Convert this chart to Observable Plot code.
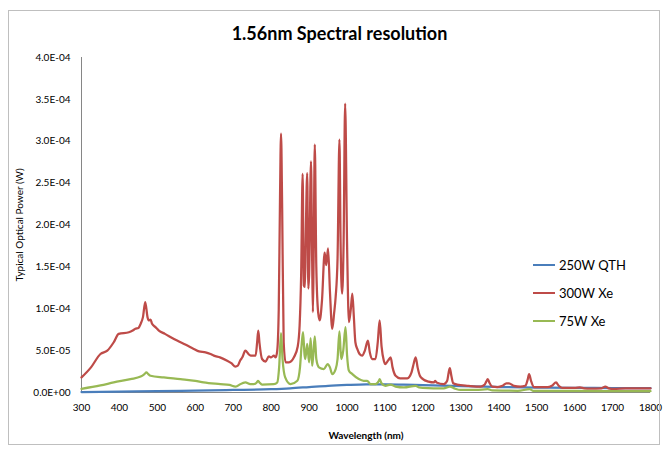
<!DOCTYPE html>
<html>
<head>
<meta charset="utf-8">
<script src="https://cdn.jsdelivr.net/npm/d3@7"></script>
<script src="https://cdn.jsdelivr.net/npm/@observablehq/plot@0.6"></script>
<style>
  html, body { margin: 0; padding: 0; background: #fff; }
  #wrap { position: relative; width: 665px; height: 453px; overflow: hidden; font-family: Lato, "Open Sans", sans-serif; }
  #border { position: absolute; left: 8px; top: 10px; width: 652px; height: 435px; border: 1px solid #bfbfbf; box-sizing: border-box; pointer-events: none; }
  #title { height: 48px; box-sizing: border-box; padding-top: 22px; line-height: 22px; text-align: center; font-weight: bold; font-size: 18px; color: #000; padding-left: 14px; }
  #legend { position: absolute; left: 533px; top: 251px; font-size: 13px; color: #000; }
  .li { display: flex; align-items: center; height: 28px; }
  .sw { width: 22px; height: 0; border-top: 2.5px solid; margin-right: 4px; }
</style>
</head>
<body>
<div id="wrap">
  <div id="border"></div>
  <div id="title">1.56nm Spectral resolution</div>
  <div id="chart"></div>
  <div id="legend"></div>
</div>
<script>
// ---- data (values in units of 1e-5 W) ----
const UNIT = 1e-5;
const seriesNames = ["250W QTH", "300W Xe", "75W Xe"];
const seriesColors = ["#4a7ebb", "#be4b48", "#98b954"];

const qthWl  = [300, 400, 500, 600, 700, 800, 850, 900, 950, 1000, 1050, 1100, 1150, 1200, 1300, 1400, 1500, 1600, 1700, 1800];
const qthVal = [0.05, 0.1, 0.15, 0.22, 0.3, 0.4, 0.5, 0.65, 0.8, 0.9, 0.97, 0.98, 0.95, 0.88, 0.75, 0.65, 0.58, 0.55, 0.53, 0.52];

const xe300Wl  = [300, 325, 350, 368, 385, 398, 425, 435, 442, 450, 456, 462, 468, 474, 477, 482, 486, 495, 504, 520, 552, 575, 596, 610, 627, 640, 649, 665, 684, 695, 706, 712, 718, 724, 732, 740, 746, 759, 763, 766, 769, 776, 785, 794, 800, 807, 812, 816, 820, 823, 826, 829, 833, 838, 847, 860, 870, 875, 879, 883, 886, 889, 891, 895, 898, 900, 905, 908, 910, 912, 915, 919, 924, 928, 934, 941, 945, 950, 955, 961, 966, 970, 975, 980, 983, 987, 991, 995, 1000, 1005, 1010, 1014, 1018, 1022, 1027, 1033, 1040, 1047, 1055, 1060, 1066, 1075, 1081, 1086, 1091, 1097, 1101, 1108, 1115, 1120, 1128, 1140, 1159, 1170, 1176, 1181, 1186, 1192, 1200, 1215, 1229, 1232, 1236, 1255, 1264, 1268, 1271, 1275, 1280, 1290, 1320, 1352, 1362, 1367, 1371, 1375, 1383, 1396, 1410, 1420, 1427, 1440, 1457, 1470, 1476, 1480, 1485, 1493, 1528, 1540, 1551, 1558, 1567, 1600, 1614, 1625, 1642, 1670, 1681, 1690, 1703, 1734, 1760, 1800];
const xe300Val = [1.8, 3.0, 4.6, 5.0, 6.0, 7.0, 7.2, 7.4, 7.6, 7.7, 8.2, 9.0, 10.8, 9.0, 8.6, 8.7, 8.2, 7.8, 7.4, 7.0, 6.2, 5.7, 5.2, 4.9, 4.8, 4.6, 4.4, 4.2, 3.8, 3.5, 3.1, 3.2, 3.8, 4.2, 5.0, 4.6, 4.4, 4.4, 6.0, 7.4, 6.0, 4.0, 3.7, 4.3, 4.2, 4.4, 4.2, 5.0, 10, 22, 30.9, 22, 6, 3.6, 3.6, 4.2, 5.5, 8, 14, 26.1, 12.8, 12.6, 18, 26.2, 12.4, 14, 27.6, 16, 9.6, 16, 29.6, 15, 9.5, 8.6, 11, 16.7, 15.2, 17.2, 12, 7.6, 9.5, 11.4, 16, 30.2, 18, 11.8, 18, 34.5, 18, 8.4, 10, 11.8, 9, 6, 5.2, 4.6, 4.4, 5.0, 6.2, 4.8, 4.0, 4.0, 6.0, 8.6, 5.5, 3.8, 3.4, 3.8, 4.2, 3.0, 2.0, 1.7, 1.7, 2.4, 3.5, 4.2, 3.0, 2.0, 1.6, 1.3, 1.2, 1.4, 1.2, 1.0, 1.4, 2.4, 2.9, 2.0, 1.1, 0.95, 0.8, 0.7, 0.9, 1.3, 1.6, 1.2, 0.7, 0.65, 0.8, 1.1, 1.1, 0.8, 0.7, 0.8, 1.5, 2.2, 1.4, 0.65, 0.63, 0.8, 1.2, 0.8, 0.56, 0.55, 0.62, 0.5, 0.45, 0.5, 0.7, 0.5, 0.42, 0.48, 0.48, 0.48];

const xe75Wl  = [300, 350, 385, 429, 456, 466, 471, 476, 482, 517, 561, 600, 622, 666, 690, 706, 712, 719, 732, 745, 754, 762, 765, 769, 776, 807, 816, 821, 826, 830, 837, 851, 869, 876, 880, 884, 888, 890, 895, 900, 904, 908, 911, 915, 919, 926, 939, 949, 955, 961, 970, 975, 980, 983, 985, 990, 996, 1000, 1005, 1014, 1031, 1044, 1053, 1062, 1075, 1084, 1086, 1091, 1101, 1115, 1128, 1150, 1181, 1190, 1200, 1255, 1271, 1285, 1299, 1340, 1371, 1383, 1420, 1450, 1482, 1490, 1550, 1600, 1700, 1800];
const xe75Val = [0.44, 0.84, 1.2, 1.6, 1.9, 2.2, 2.4, 2.2, 2.0, 1.8, 1.6, 1.4, 1.2, 1.0, 0.9, 0.7, 0.8, 1.0, 1.2, 1.0, 1.0, 1.2, 1.4, 1.2, 0.95, 1.0, 1.2, 3.0, 7.1, 4.0, 1.8, 1.0, 1.4, 3.0, 5.5, 7.2, 4.5, 4.0, 5.8, 3.6, 6.5, 3.2, 4.5, 6.7, 4.0, 3.0, 2.8, 3.4, 3.0, 2.2, 2.8, 4.0, 7.3, 5.0, 4.0, 5.0, 7.8, 4.5, 2.6, 2.2, 1.6, 1.4, 1.4, 1.0, 1.0, 1.4, 1.6, 1.1, 0.8, 0.95, 0.7, 0.6, 0.8, 0.6, 0.56, 0.5, 0.7, 0.45, 0.3, 0.3, 0.4, 0.25, 0.22, 0.2, 0.4, 0.2, 0.2, 0.18, 0.15, 0.15];

const xTicks = [300, 400, 500, 600, 700, 800, 900, 1000, 1100, 1200, 1300, 1400, 1500, 1600, 1700, 1800];
const yTicks = [0, 5e-5, 1e-4, 1.5e-4, 2e-4, 2.5e-4, 3e-4, 3.5e-4, 4e-4];
const xTitle = "Wavelength (nm)";
const yTitle = "Typical Optical Power (W)";

// ---- build table ----
const rows = [];
[[seriesNames[0], qthWl, qthVal], [seriesNames[1], xe300Wl, xe300Val], [seriesNames[2], xe75Wl, xe75Val]]
  .forEach(([name, wl, val]) => wl.forEach((w, i) => rows.push({series: name, wl: w, p: val[i] * UNIT})));

const fmtE = d => {
  const [m, e] = d.toExponential(1).split("e");
  return m + "E" + e[0] + e.slice(1).padStart(2, "0");
};

const chart = Plot.plot({
  width: 665,
  height: 405,
  marginLeft: 81,
  marginRight: 15,
  marginTop: 9,
  marginBottom: 61,
  style: {fontFamily: "Lato, 'Open Sans', sans-serif", fontSize: "10px", color: "#000", background: "transparent", overflow: "visible"},
  x: {domain: [300, 1800]},
  y: {domain: [0, 4e-4]},
  color: {domain: seriesNames, range: seriesColors},
  marks: [
    Plot.ruleY([0], {stroke: "#868686", strokeWidth: 1}),
    Plot.ruleX([300], {stroke: "#868686", strokeWidth: 1}),
    Plot.line(rows, {x: "wl", y: "p", z: "series", stroke: "series", strokeWidth: 2.25, curve: "monotone-x", strokeLinejoin: "round"}),
    Plot.axisX({ticks: xTicks, tickSize: 0, tickPadding: 11, tickFormat: d => String(d), label: null}),
    Plot.axisY({ticks: yTicks, tickSize: 0, tickPadding: 11, tickFormat: fmtE, label: null}),
    Plot.text([xTitle], {frameAnchor: "bottom", dy: 46, fontWeight: "bold", fontSize: 10}),
    Plot.text([yTitle], {frameAnchor: "left", dx: -62, rotate: -90, textAnchor: "middle", fontSize: 10})
  ]
});
document.getElementById("chart").appendChild(chart);

// ---- legend ----
const legend = document.getElementById("legend");
seriesNames.forEach((n, i) => {
  const row = document.createElement("div");
  row.className = "li";
  const sw = document.createElement("span");
  sw.className = "sw";
  sw.style.borderTopColor = seriesColors[i];
  const t = document.createElement("span");
  t.textContent = n;
  row.appendChild(sw);
  row.appendChild(t);
  legend.appendChild(row);
});
</script>
</body>
</html>
